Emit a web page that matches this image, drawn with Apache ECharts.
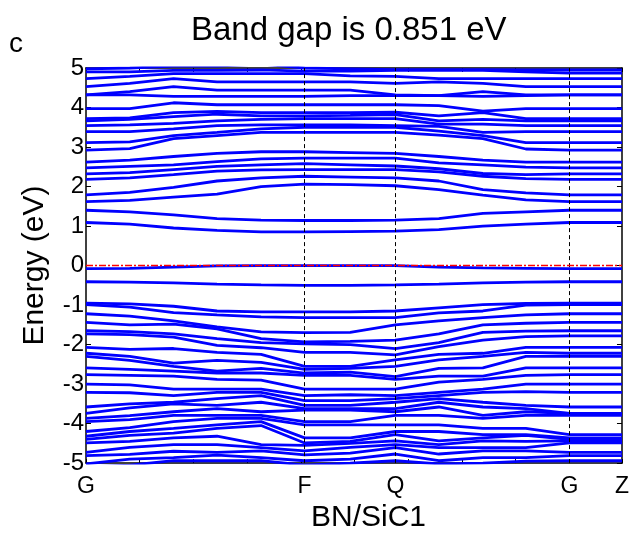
<!DOCTYPE html>
<html>
<head>
<meta charset="utf-8">
<script src="https://cdn.jsdelivr.net/npm/echarts@6/dist/echarts.min.js"></script>
<style>html,body{margin:0;padding:0;background:#fff}#c{width:632px;height:538px}</style>
</head>
<body>
<div id="c"></div>
<script>
// k-path distances (arbitrary units) of the computed k-points
const kPath = [0, 0.815, 1.63, 2.44, 3.26, 4.07, 4.92, 5.76, 6.57, 7.39, 8.19, 9.0, 9.98];
// high-symmetry points
const hsNames = ['G', 'F', 'Q', 'G', 'Z'];
const hsPos = [0, 4.07, 5.76, 9.0, 9.98];
const yTicks = [-5, -4, -3, -2, -1, 0, 1, 2, 3, 4, 5];

// conduction bands (eV)
const c1  = [1.09,1.05,0.95,0.89,0.85,0.851,0.86,0.87,0.91,1.00,1.05,1.09,1.09];
const c2  = [1.40,1.36,1.28,1.19,1.15,1.14,1.14,1.15,1.19,1.32,1.36,1.40,1.40];
const c3  = [1.62,1.65,1.73,1.81,2.00,2.06,2.05,2.02,1.92,1.78,1.66,1.62,1.62];
const c4  = [1.79,1.85,1.98,2.14,2.22,2.26,2.24,2.22,2.14,1.92,1.84,1.79,1.79];
const c5  = [2.18,2.22,2.30,2.39,2.42,2.43,2.43,2.43,2.37,2.26,2.20,2.18,2.18];
const c6  = [2.32,2.35,2.43,2.51,2.55,2.58,2.55,2.52,2.45,2.33,2.30,2.32,2.32];
const c7  = [2.47,2.51,2.55,2.63,2.70,2.72,2.72,2.72,2.60,2.55,2.49,2.47,2.47];
const c8  = [2.62,2.67,2.76,2.84,2.88,2.88,2.86,2.84,2.76,2.67,2.62,2.62,2.62];
const c9  = [2.92,2.96,3.21,3.29,3.37,3.37,3.37,3.37,3.30,3.21,2.95,2.92,2.92];
const c10 = [3.11,3.13,3.29,3.37,3.46,3.50,3.50,3.50,3.40,3.29,3.11,3.11,3.11];
const c11 = [3.39,3.39,3.46,3.54,3.56,3.56,3.56,3.54,3.52,3.37,3.39,3.39,3.39];
const c12 = [3.54,3.56,3.60,3.66,3.70,3.72,3.72,3.72,3.58,3.58,3.54,3.54,3.54];
const c13 = [3.66,3.70,3.77,3.83,3.79,3.79,3.80,3.82,3.66,3.70,3.66,3.66,3.66];
const c14 = [3.72,3.74,3.87,3.90,3.87,3.87,3.87,3.88,3.79,3.87,3.72,3.72,3.72];
const c15 = [3.97,3.97,4.12,4.07,4.07,4.07,4.07,4.07,4.05,3.91,3.97,3.97,3.97];
const c16 = [4.32,4.32,4.28,4.28,4.28,4.28,4.30,4.30,4.30,4.28,4.30,4.32,4.32];
const c17 = [4.32,4.40,4.53,4.44,4.44,4.44,4.44,4.32,4.30,4.40,4.32,4.32,4.32];
const c18 = [4.53,4.61,4.73,4.65,4.65,4.65,4.65,4.61,4.65,4.61,4.53,4.53,4.53];
const c19 = [4.73,4.79,4.86,4.86,4.86,4.86,4.80,4.79,4.73,4.73,4.73,4.73,4.73];
const c20 = [4.90,4.90,4.94,4.94,4.95,4.92,4.92,4.94,4.94,4.94,4.90,4.87,4.87];
const c21 = [4.98,5.00,5.05,5.05,5.10,5.00,4.98,4.96,4.96,4.96,4.95,4.95,4.95];

// valence bands (eV)
const v1  = [-0.08,-0.07,-0.04,-0.01,0,0,0,0,-0.04,-0.06,-0.07,-0.08,-0.08];
const v2  = [-0.41,-0.42,-0.44,-0.47,-0.49,-0.50,-0.50,-0.49,-0.47,-0.44,-0.42,-0.41,-0.41];
const v3  = [-0.95,-0.97,-1.03,-1.15,-1.17,-1.17,-1.17,-1.15,-1.07,-0.99,-0.96,-0.95,-0.95];
const v4  = [-0.99,-1.05,-1.19,-1.25,-1.30,-1.32,-1.32,-1.32,-1.20,-1.15,-1.00,-0.99,-0.99];
const v5  = [-1.22,-1.28,-1.40,-1.55,-1.68,-1.70,-1.69,-1.50,-1.40,-1.32,-1.25,-1.22,-1.22];
const v6  = [-1.44,-1.50,-1.48,-1.60,-1.85,-1.93,-1.92,-1.89,-1.73,-1.50,-1.46,-1.44,-1.44];
const v7  = [-1.65,-1.67,-1.73,-1.85,-1.95,-1.98,-2.00,-2.10,-1.95,-1.69,-1.66,-1.65,-1.65];
const v8  = [-1.73,-1.75,-1.81,-2.02,-2.08,-2.20,-2.20,-2.26,-2.05,-1.89,-1.80,-1.78,-1.78];
const v9  = [-2.07,-2.12,-2.10,-2.20,-2.25,-2.55,-2.55,-2.39,-2.25,-2.22,-2.07,-2.07,-2.07];
const v10 = [-2.22,-2.30,-2.47,-2.40,-2.45,-2.63,-2.60,-2.55,-2.39,-2.30,-2.20,-2.22,-2.22];
const v11 = [-2.30,-2.40,-2.55,-2.67,-2.60,-2.72,-2.70,-2.81,-2.60,-2.59,-2.30,-2.30,-2.30];
const v12 = [-2.59,-2.63,-2.67,-2.72,-2.72,-2.78,-2.78,-2.88,-2.80,-2.80,-2.59,-2.59,-2.59];
const v13 = [-2.76,-2.78,-2.80,-2.88,-2.90,-3.13,-3.13,-3.13,-2.95,-2.88,-2.78,-2.76,-2.76];
const v14 = [-3.00,-3.02,-3.13,-3.13,-3.13,-3.29,-3.27,-3.29,-3.21,-3.13,-3.00,-3.00,-3.00];
const v15 = [-3.21,-3.22,-3.29,-3.21,-3.21,-3.42,-3.42,-3.37,-3.29,-3.21,-3.19,-3.21,-3.21];
const v16 = [-3.58,-3.50,-3.46,-3.37,-3.29,-3.54,-3.54,-3.46,-3.37,-3.46,-3.54,-3.58,-3.58];
const v17 = [-3.74,-3.60,-3.50,-3.54,-3.46,-3.62,-3.62,-3.62,-3.46,-3.58,-3.62,-3.74,-3.74];
const v18 = [-3.87,-3.80,-3.70,-3.62,-3.70,-3.66,-3.66,-3.70,-3.58,-3.79,-3.70,-3.74,-3.74];
const v19 = [-3.95,-3.90,-3.79,-3.79,-3.79,-3.95,-3.95,-3.79,-3.79,-3.87,-3.79,-3.79,-3.79];
const v20 = [-4.20,-4.10,-3.95,-3.87,-3.87,-4.03,-4.03,-4.03,-4.03,-4.12,-4.12,-4.28,-4.28];
const v21 = [-4.32,-4.20,-4.12,-4.03,-3.95,-4.36,-4.36,-4.20,-4.20,-4.28,-4.28,-4.36,-4.36];
const v22 = [-4.40,-4.30,-4.24,-4.12,-4.05,-4.49,-4.45,-4.28,-4.44,-4.36,-4.30,-4.40,-4.40];
const v23 = [-4.49,-4.45,-4.36,-4.32,-4.53,-4.55,-4.50,-4.44,-4.53,-4.44,-4.45,-4.44,-4.44];
const v24 = [-4.73,-4.60,-4.53,-4.53,-4.61,-4.69,-4.60,-4.53,-4.61,-4.61,-4.61,-4.49,-4.49];
const v25 = [-4.81,-4.78,-4.70,-4.73,-4.69,-4.79,-4.75,-4.61,-4.77,-4.69,-4.69,-4.73,-4.73];
const v26 = [-5.02,-4.90,-4.86,-4.80,-4.86,-4.94,-4.90,-4.77,-4.94,-4.86,-4.86,-4.81,-4.81];
const v27 = [-5.10,-5.05,-4.94,-4.94,-4.94,-5.05,-5.00,-4.94,-5.02,-5.00,-4.95,-4.94,-4.94];

const bands = [c1,c2,c3,c4,c5,c6,c7,c8,c9,c10,c11,c12,c13,c14,c15,c16,c17,c18,c19,c20,c21,
               v1,v2,v3,v4,v5,v6,v7,v8,v9,v10,v11,v12,v13,v14,v15,v16,v17,v18,v19,v20,v21,v22,v23,v24,v25,v26,v27];

const FONT = 'Liberation Sans, Arial, sans-serif';
const chart = echarts.init(document.getElementById('c'), null, {renderer: 'canvas'});

const series = bands.map((b, i) => ({
  type: 'line',
  data: b.map((e, j) => [kPath[j], e]),
  showSymbol: false,
  silent: true,
  animation: false,
  clip: true,
  lineStyle: {color: '#0000ff', width: 2.8},
  z: 3
}));

// vertical dashed lines at interior high-symmetry points
series.push({
  type: 'line', data: [], silent: true, animation: false, z: 5,
  markLine: {
    silent: true, symbol: 'none', animation: false, label: {show: false},
    data: hsPos.slice(1, 4).map(x => ({xAxis: x, lineStyle: {color: '#000', width: 1, type: [4, 3]}}))
  }
});
// red dash-dot Fermi level, drawn on top
series.push({
  type: 'line', data: [], silent: true, animation: false, z: 10, zlevel: 1,
  markLine: {
    silent: true, symbol: 'none', animation: false, label: {show: false},
    data: [{yAxis: 0, lineStyle: {color: '#ff0000', width: 1.4, type: [7, 2, 2, 2], opacity: 1}}]
  }
});

const option = {
  backgroundColor: '#fff',
  animation: false,
  title: {
    text: 'Band gap is 0.851 eV',
    left: 186, top: 9,
    textStyle: {fontFamily: FONT, fontSize: 33, fontWeight: 'normal', color: '#000'}
  },
  graphic: [{
    type: 'text', left: 9, top: 30,
    style: {text: 'c', font: '28px ' + FONT, fill: '#000'}
  }],
  grid: {left: 86, right: 7, top: 68, bottom: 65, show: false},
  xAxis: [{
    type: 'value', min: 0, max: 9.98, interval: 1, position: 'bottom',
    axisLine: {show: true, onZero: false, lineStyle: {color: '#000', width: 1.5}},
    axisTick: {show: true, inside: true, length: 4, lineStyle: {color: '#000', width: 1}},
    axisLabel: {
      customValues: hsPos,
      formatter: v => { const i = hsPos.findIndex(p => Math.abs(p - v) < 1e-6); return i >= 0 ? hsNames[i] : ''; },
      fontFamily: FONT, fontSize: 23, color: '#000', margin: 12,
      showMinLabel: true, showMaxLabel: true
    },
    splitLine: {show: false},
    name: 'BN/SiC1', nameLocation: 'middle', nameGap: 27,
    nameTextStyle: {fontFamily: FONT, fontSize: 30, color: '#000', padding: [0, 0, 0, 29]}
  }, {
    type: 'value', min: 0, max: 9.98, interval: 1, position: 'top',
    axisLine: {show: true, onZero: false, lineStyle: {color: '#000', width: 1.5}},
    axisTick: {show: true, inside: true, length: 4, lineStyle: {color: '#000', width: 1}},
    axisLabel: {show: false}, splitLine: {show: false}
  }],
  yAxis: [{
    type: 'value', min: -5, max: 5, interval: 1, position: 'left',
    axisLine: {show: true, onZero: false, lineStyle: {color: '#000', width: 1.5}},
    axisTick: {show: true, inside: true, length: 5, lineStyle: {color: '#000', width: 1}},
    axisLabel: {fontFamily: FONT, fontSize: 24, color: '#000', margin: 2, showMinLabel: true, showMaxLabel: true},
    splitLine: {show: false},
    name: 'Energy (eV)', nameLocation: 'middle', nameGap: 36,
    nameTextStyle: {fontFamily: FONT, fontSize: 30, color: '#000'}
  }, {
    type: 'value', min: -5, max: 5, interval: 1, position: 'right',
    axisLine: {show: true, onZero: false, lineStyle: {color: '#000', width: 1.5}},
    axisTick: {show: true, inside: true, length: 5, lineStyle: {color: '#000', width: 1}},
    axisLabel: {show: false}, splitLine: {show: false}
  }],
  series: series
};
chart.setOption(option);
</script>
</body>
</html>
